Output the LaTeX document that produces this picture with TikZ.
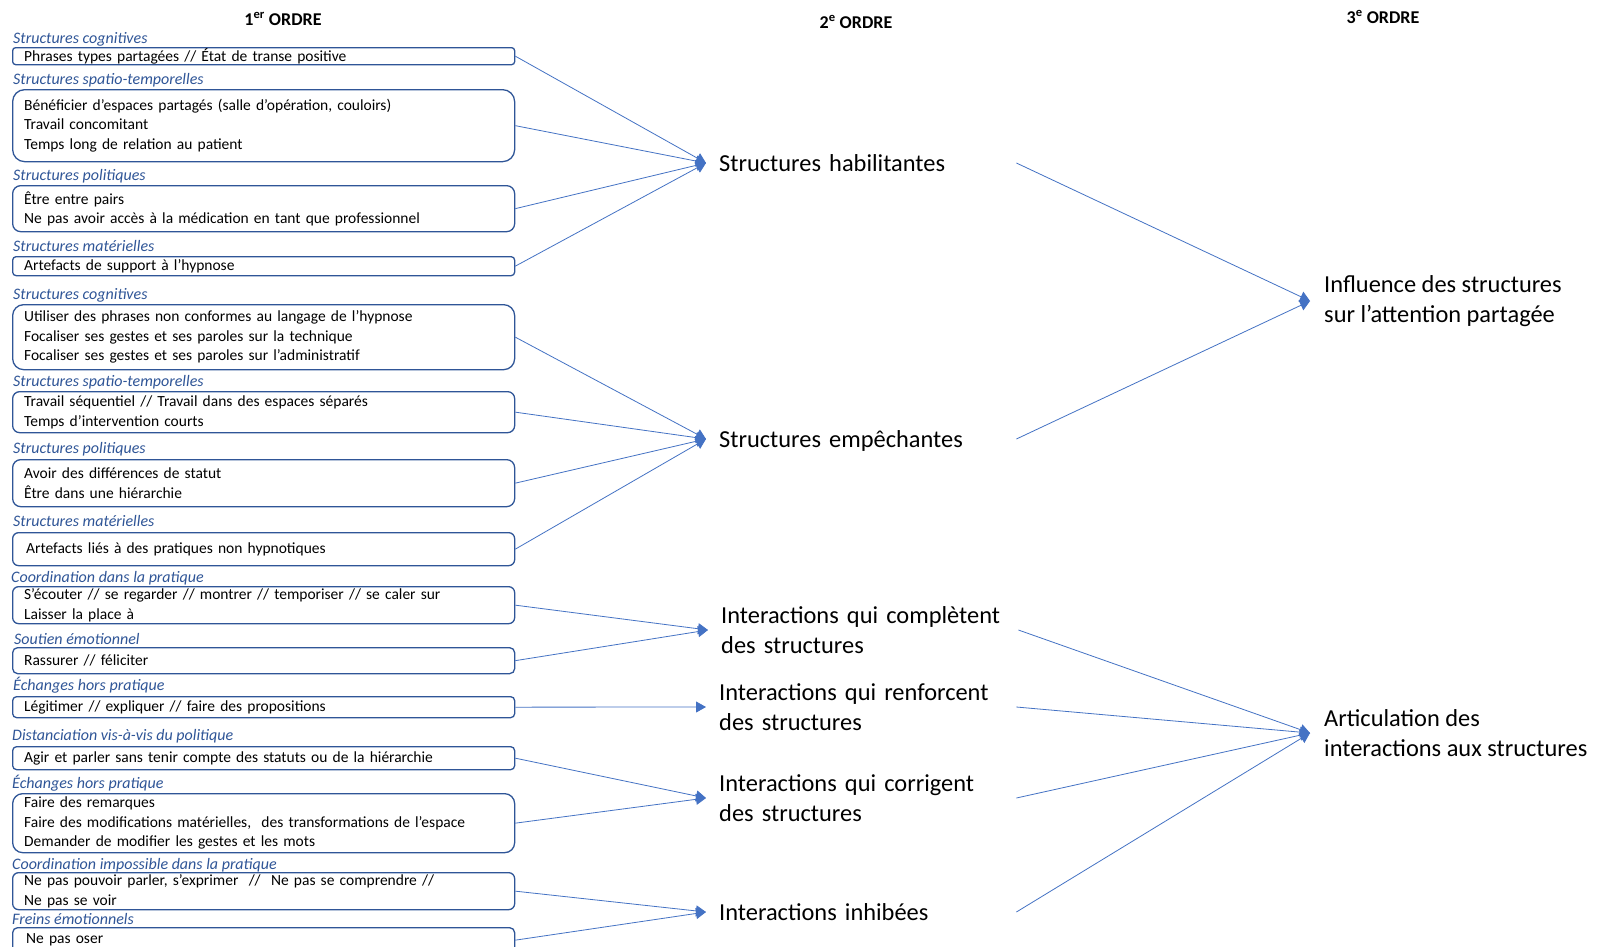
\documentclass[tikz,border=0pt]{standalone}
\usepackage{fontspec}
\setmainfont{Carlito}
\usetikzlibrary{arrows.meta}
\definecolor{lnk}{HTML}{4472C4}
\definecolor{bxc}{HTML}{2F5597}
\begin{document}
\begin{tikzpicture}[x=1pt,y=-1pt,
 bx/.style={draw=bxc, line width=1.3pt, rounded corners=#1, anchor=north west, minimum width=502pt, text width=479pt, inner xsep=11.5pt, inner ysep=0pt, align=left, font=\fontsize{15.5}{19.5}\selectfont},
 bx/.default=6pt,
 lbl/.style={anchor=mid west, inner sep=0pt, text=bxc, font=\fontsize{16}{18}\selectfont\itshape, yshift=-3pt},
 ttl/.style={font=\fontsize{18}{20}\selectfont\bfseries, inner sep=0pt},
 ord/.style={anchor=west, inner xsep=13pt, inner ysep=0pt, text width=284pt, align=left, font=\fontsize{24.4}{30}\selectfont},
 trd/.style={anchor=west, inner xsep=14pt, inner ysep=0pt, align=left, font=\fontsize{24.4}{30}\selectfont},
 lk/.style={draw=lnk, line width=0.8pt, -{Triangle[length=10pt,width=11pt]}}
]
\clip (0,0) rectangle (1598,946);
\fill[white] (0,0) rectangle (1598,946);

% titles
\node[ttl] (t1) at (283,19) {1\textsuperscript{er} ORDRE};
\node[ttl] (t2) at (856,22) {2\textsuperscript{e} ORDRE};
\node[ttl] (t3) at (1383,17) {3\textsuperscript{e} ORDRE};

% labels
\node[lbl] (l1) at (13,38) {Structures cognitives};
\node[lbl] (l2) at (13,79) {Structures spatio-temporelles};
\node[lbl] (l3) at (13,175) {Structures politiques};
\node[lbl] (l4) at (13,246) {Structures matérielles};
\node[lbl] (l5) at (13,294) {Structures cognitives};
\node[lbl] (l6) at (13,381) {Structures spatio-temporelles};
\node[lbl] (l7) at (13,448) {Structures politiques};
\node[lbl] (l8) at (13,521) {Structures matérielles};
\node[lbl] (l9) at (11,577) {Coordination dans la pratique};
\node[lbl] (l10) at (14,639) {Soutien émotionnel};
\node[lbl] (l11) at (13,685) {Échanges hors pratique};
\node[lbl] (l12) at (12,735) {Distanciation vis-à-vis du politique};
\node[lbl] (l13) at (12,783) {Échanges hors pratique};
\node[lbl] (l14) at (12,864) {Coordination impossible dans la pratique};
\node[lbl] (l15) at (12,919) {Freins émotionnels};

% boxes
\node[bx=3pt, minimum height=17pt] (b1) at (12,47) {Phrases types partagées // État de transe positive};
\node[bx=12pt, minimum height=72pt] (b2) at (12,89) {Bénéficier d’espaces partagés (salle d’opération, couloirs)\\Travail concomitant\\Temps long de relation au patient};
\node[bx=8pt, minimum height=46pt] (b3) at (12,185) {Être entre pairs\\Ne pas avoir accès à la médication en tant que professionnel};
\node[bx=3.5pt, minimum height=19pt] (b4) at (12,256) {Artefacts de support à l’hypnose};
\node[bx=11pt, minimum height=65pt] (b5) at (12,304) {Utiliser des phrases non conformes au langage de l’hypnose\\Focaliser ses gestes et ses paroles sur la technique\\Focaliser ses gestes et ses paroles sur l’administratif};
\node[bx=7pt, minimum height=41pt] (b6) at (12,391) {Travail séquentiel // Travail dans des espaces séparés\\Temps d’intervention courts};
\node[bx=8pt, minimum height=47pt] (b7) at (12,459) {Avoir des différences de statut\\Être dans une hiérarchie};
\node[bx=6pt, minimum height=33pt] (b8) at (12,532) {\hspace*{2pt}Artefacts liés à des pratiques non hypnotiques};
\node[bx=6pt, minimum height=37pt] (b9) at (12,586) {S’écouter // se regarder // montrer // temporiser // se caler sur\\Laisser la place à};
\node[bx=5pt, minimum height=26pt] (b10) at (12,647) {Rassurer // féliciter};
\node[bx=4pt, minimum height=21pt] (b11) at (12,696) {Légitimer // expliquer // faire des propositions};
\node[bx=4pt, minimum height=23pt] (b12) at (12,746) {Agir et parler sans tenir compte des statuts ou de la hiérarchie};
\node[bx=10pt, minimum height=59pt] (b13) at (12,793) {Faire des remarques\\Faire des modifications matérielles, \ des transformations de l’espace\\Demander de modifier les gestes et les mots};
\node[bx=6pt, minimum height=37pt] (b14) at (12,872) {Ne pas pouvoir parler, s’exprimer \ // \ Ne pas se comprendre //\\Ne pas se voir};
\node[bx=5pt, minimum height=25pt] (b15) at (12,927) {\hspace*{2pt}Ne pas oser};

% second order
\node[ord] (h1) at (706,163) {Structures habilitantes};
\node[ord, text depth=0pt] (h2) at (706,439) {Structures empêchantes};
\node[ord] (i1) at (708,630) {Interactions qui complètent\\des structures};
\node[ord] (i2) at (706,707) {Interactions qui renforcent\\des structures};
\node[ord] (i3) at (706,798) {Interactions qui corrigent\\des structures};
\node[ord] (i4) at (706,912) {Interactions inhibées};

% third order
\node[trd] (r1) at (1310,301) {Influence des structures\\sur l’attention partagée};
\node[trd] (r2) at (1310,733) {Articulation des\\interactions aux structures};

% connectors first -> second
\foreach \b in {b1,b2,b3,b4} \draw[lk] (\b.east) -- (h1.west);
\foreach \b in {b5,b6,b7,b8} \draw[lk] (\b.east) -- (h2.west);
\foreach \b in {b9,b10} \draw[lk] (\b.east) -- (i1.west);
\draw[lk] (b11.east) -- (i2.west);
\foreach \b in {b12,b13} \draw[lk] (\b.east) -- (i3.west);
\foreach \b in {b14,b15} \draw[lk] (\b.east) -- (i4.west);

% connectors second -> third
\foreach \n in {h1,h2} \draw[lk] (\n.east) -- (r1.west);
\foreach \n in {i1,i2,i3,i4} \draw[lk] (\n.east) -- (r2.west);
\end{tikzpicture}
\end{document}
